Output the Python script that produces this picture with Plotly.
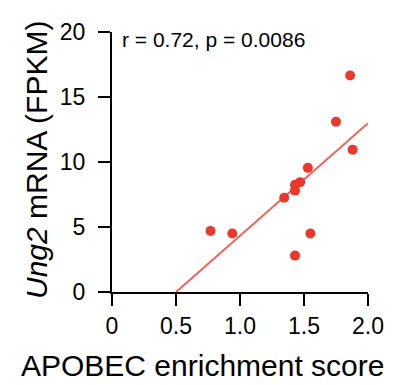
import numpy as np
import plotly.graph_objects as go

# Data
apobec_score = [0.77, 0.94, 1.345, 1.43, 1.43, 1.47, 1.53, 1.55, 1.43, 1.75, 1.86, 1.88]
ung2_fpkm = [4.7, 4.5, 7.25, 8.25, 7.8, 8.45, 9.55, 4.5, 2.8, 13.1, 16.65, 10.95]
x_ticks = [0, 0.5, 1.0, 1.5, 2.0]
x_tick_labels = ["0", "0.5", "1.0", "1.5", "2.0"]
y_ticks = [0, 5, 10, 15, 20]
y_tick_labels = ["0", "5", "10", "15", "20"]
stat_text = "r = 0.72, p = 0.0086"
x_title = "APOBEC enrichment score"
y_title = "<i>Ung2</i> mRNA (FPKM)"

slope, intercept = np.polyfit(apobec_score, ung2_fpkm, 1)
x0 = max(0.0, -intercept / slope)
fit_x = [x0, 2.0]
fit_y = [slope * v + intercept for v in fit_x]

fig = go.Figure()
fig.add_trace(go.Scatter(x=fit_x, y=fit_y, mode="lines",
                         line=dict(color="#F0625A", width=2), hoverinfo="skip", cliponaxis=False))
fig.add_trace(go.Scatter(x=apobec_score, y=ung2_fpkm, mode="markers",
                         marker=dict(color="#E8392B", size=10, line=dict(width=0)), cliponaxis=False))

font = "Liberation Sans, Arial, sans-serif"
fig.update_layout(
    width=396, height=385,
    margin=dict(l=112, r=22, t=32, b=93),
    plot_bgcolor="white", paper_bgcolor="white",
    showlegend=False,
    font=dict(family=font, color="black"),
)
fig.update_xaxes(range=[0, 2.0], tickvals=x_ticks, ticktext=x_tick_labels,
                 showline=True, linecolor="black", linewidth=2, mirror=False,
                 ticks="outside", ticklen=12, tickwidth=2, tickcolor="black",
                 showgrid=False, zeroline=False, tickfont=dict(size=23))
fig.update_yaxes(range=[0, 20], tickvals=y_ticks, ticktext=y_tick_labels,
                 showline=True, linecolor="black", linewidth=2, mirror=False,
                 ticks="outside", ticklen=12, tickwidth=2, tickcolor="black",
                 showgrid=False, zeroline=False, tickfont=dict(size=23),
                 ticklabelstandoff=8)
fig.add_annotation(x=0, y=1.0, xref="x domain", yref="y domain", xanchor="left", yanchor="middle",
                   xshift=8, yshift=-7.5, text=stat_text, showarrow=False, font=dict(size=21))
fig.add_annotation(x=0, y=0, xref="paper", yref="paper", xanchor="center", yanchor="middle",
                   xshift=90, yshift=-73, text=x_title, showarrow=False, font=dict(size=30))
fig.add_annotation(x=0, y=0, xref="paper", yref="paper", xanchor="center", yanchor="middle",
                   xshift=-76, yshift=132, textangle=-90, text=y_title, showarrow=False,
                   font=dict(size=30))

fig.write_html("out.html")
